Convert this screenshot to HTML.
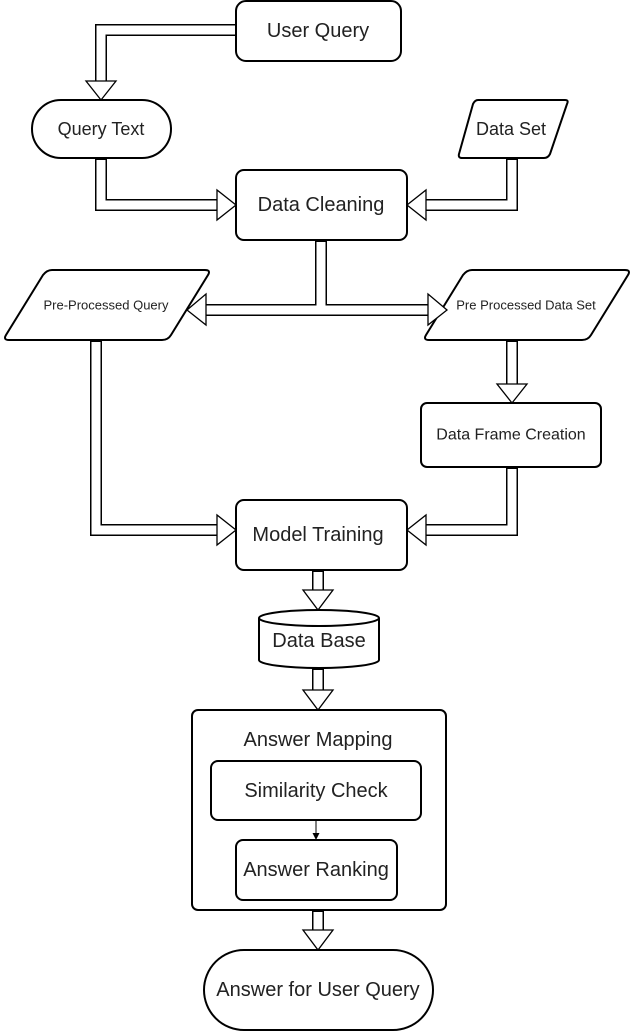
<!DOCTYPE html>
<html><head><meta charset="utf-8"><style>
html,body{margin:0;padding:0;background:#fff;}
svg{display:block;}
text{font-family:"Liberation Sans",Arial,sans-serif;fill:#222;text-anchor:middle;dominant-baseline:central;}
</style></head><body>
<svg width="632" height="1032" viewBox="0 0 632 1032" xmlns="http://www.w3.org/2000/svg">
<g fill="none" stroke="#000" stroke-width="2" stroke-linejoin="round">
  <rect x="236" y="1" width="165" height="60" rx="10" fill="#fff"/>
  <rect x="32" y="100" width="139" height="58" rx="29" fill="#fff"/>
  <path d="M478 100 L565 100 Q569 100 567 104 L550 154 Q548 158 544 158 L462 158 Q458 158 459 154 L473 104 Q475 100 478 100 Z" fill="#fff"/>
  <rect x="236" y="170" width="171" height="70" rx="8" fill="#fff"/>
  <path d="M52 270 L205 270 Q211 270 208 275 L171 335 Q168 340 162 340 L9 340 Q3 340 6 335 L43 275 Q47 270 52 270 Z" fill="#fff"/>
  <path d="M472 270 L625 270 Q631 270 628 275 L591 335 Q588 340 582 340 L429 340 Q423 340 426 335 L463 275 Q467 270 472 270 Z" fill="#fff"/>
  <rect x="421" y="403" width="180" height="64" rx="6" fill="#fff"/>
  <rect x="236" y="500" width="171" height="70" rx="8" fill="#fff"/>
  <path d="M259 618 L259 660 A60 8 0 0 0 379 660 L379 618" fill="#fff"/>
  <ellipse cx="319" cy="618" rx="60" ry="8" fill="#fff"/>
  <rect x="192" y="710" width="254" height="200" rx="6" fill="#fff"/>
  <rect x="211" y="761" width="210" height="59" rx="7" fill="#fff"/>
  <rect x="236" y="840" width="161" height="60" rx="7" fill="#fff"/>
  <rect x="204" y="950" width="229" height="80" rx="40" fill="#fff"/>
</g>
<g fill="none" stroke-linejoin="miter">
  <g stroke="#000" stroke-width="12">
    <polyline points="236,30 101,30 101,82"/>
    <polyline points="101,158 101,205 217,205"/>
    <polyline points="512,158 512,205 426,205"/>
    <polyline points="321,240 321,310"/>
    <polyline points="206,310 428,310"/>
    <polyline points="512,340 512,385"/>
    <polyline points="96,340 96,530 217,530"/>
    <polyline points="512,467 512,530 426,530"/>
    <polyline points="318,570 318,591"/>
    <polyline points="318,668 318,691"/>
    <polyline points="318,910 318,931"/>
  </g>
  <g stroke="#fff" stroke-width="9">
    <polyline points="235,30 101,30 101,84"/>
    <polyline points="101,160 101,205 219,205"/>
    <polyline points="512,160 512,205 424,205"/>
    <polyline points="321,242 321,310"/>
    <polyline points="204,310 430,310"/>
    <polyline points="512,342 512,387"/>
    <polyline points="96,342 96,530 219,530"/>
    <polyline points="512,469 512,530 424,530"/>
    <polyline points="318,572 318,593"/>
    <polyline points="318,670 318,693"/>
    <polyline points="318,912 318,933"/>
  </g>
</g>
<g fill="#fff" stroke="#000" stroke-width="1.3" stroke-linejoin="miter">
  <polygon points="86,81 116,81 101,100"/>
  <polygon points="217,190 217,220 236,205"/>
  <polygon points="426,190 426,220 407,205"/>
  <polygon points="206,294 206,325 187,310"/>
  <polygon points="428,294 428,325 447,310"/>
  <polygon points="497,384 527,384 512,403"/>
  <polygon points="217,515 217,545 236,530"/>
  <polygon points="426,515 426,545 407,530"/>
  <polygon points="303,590 333,590 318,610"/>
  <polygon points="303,690 333,690 318,710"/>
  <polygon points="303,930 333,930 318,950"/>
</g>
<line x1="316" y1="820" x2="316" y2="834" stroke="#000" stroke-width="1"/>
<polygon points="312.5,833 319.5,833 316,840" fill="#000"/>
<text x="318" y="31" font-size="20">User Query</text>
<text x="101" y="129" font-size="18">Query Text</text>
<text x="511" y="129" font-size="18">Data Set</text>
<text x="321" y="205" font-size="20">Data Cleaning</text>
<text x="106" y="305" font-size="13">Pre-Processed Query</text>
<text x="526" y="305" font-size="13">Pre Processed Data Set</text>
<text x="511" y="435" font-size="16">Data Frame Creation</text>
<text x="318" y="535" font-size="20">Model Training</text>
<text x="319" y="641" font-size="20">Data Base</text>
<text x="318" y="740" font-size="20">Answer Mapping</text>
<text x="316" y="791" font-size="20">Similarity Check</text>
<text x="316" y="870" font-size="20">Answer Ranking</text>
<text x="318" y="990" font-size="20">Answer for User Query</text>
</svg>
</body></html>
